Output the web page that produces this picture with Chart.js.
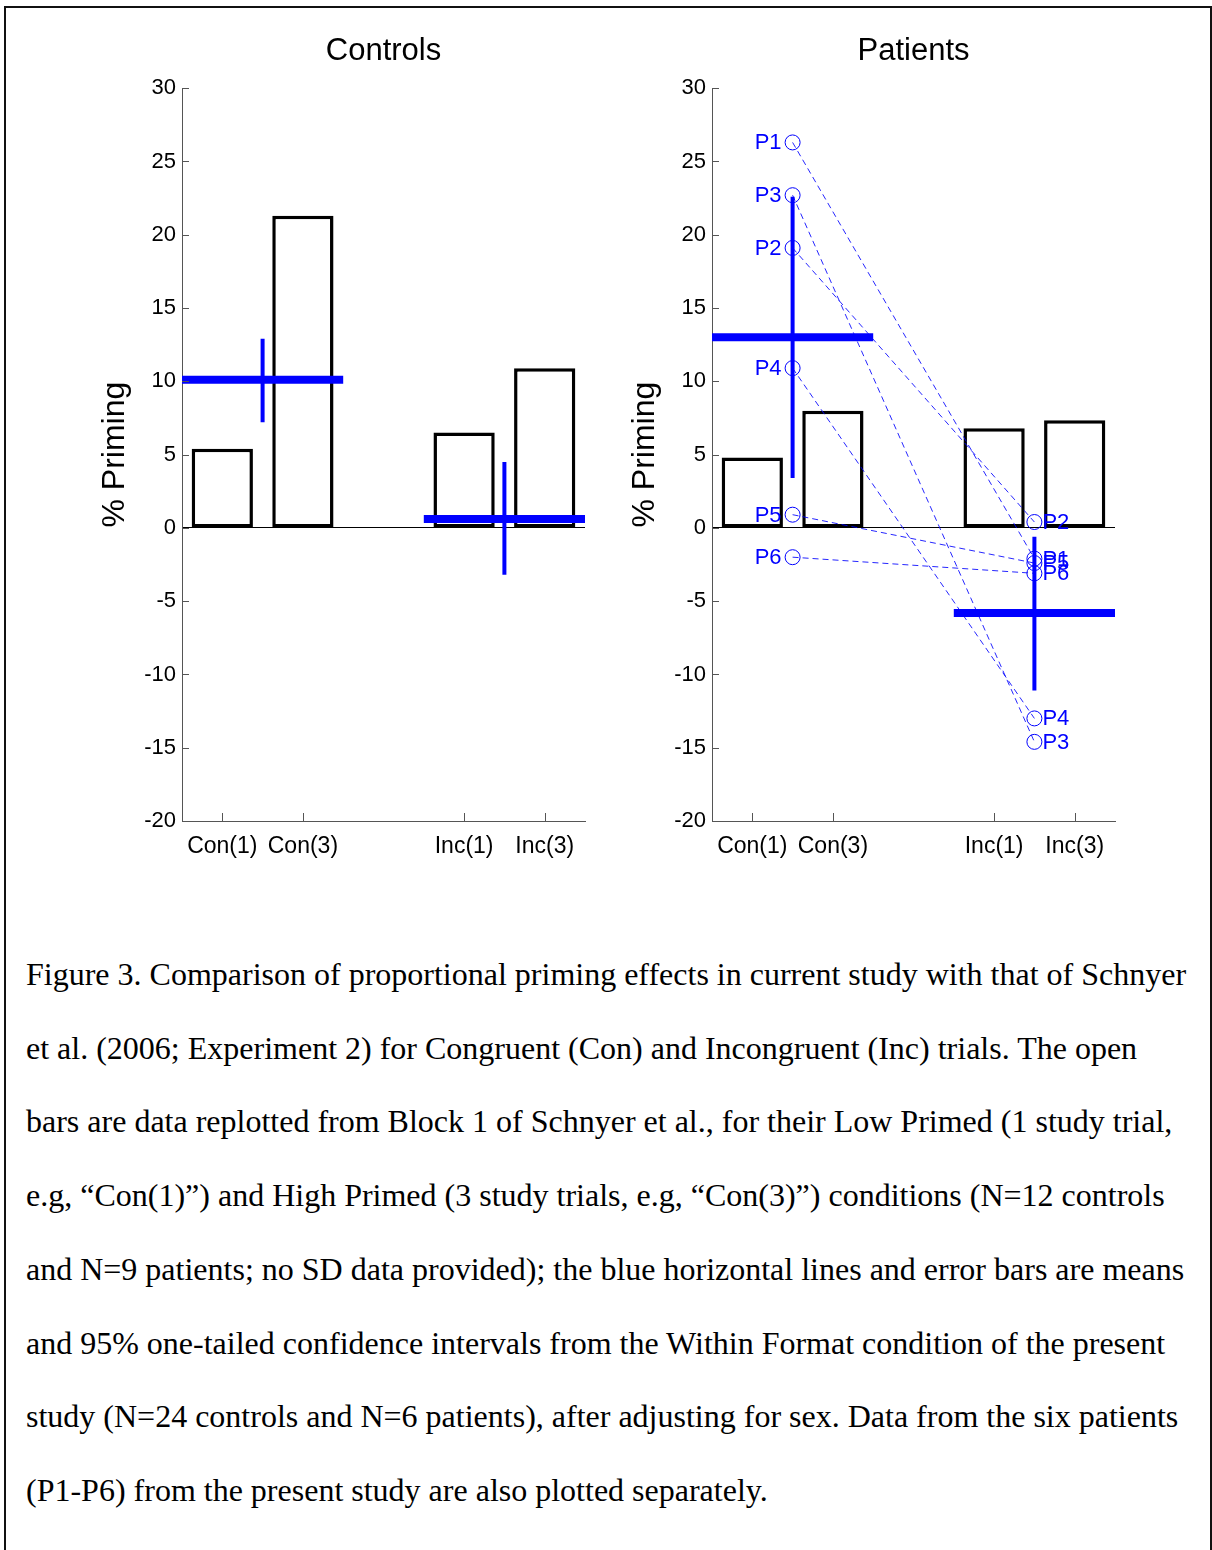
<!DOCTYPE html>
<html>
<head>
<meta charset="utf-8">
<script src="https://cdn.jsdelivr.net/npm/chart.js@4.4.4/dist/chart.umd.min.js"></script>
<style>
  html, body { margin: 0; padding: 0; background: #fff; }
  body { width: 1212px; height: 1550px; position: relative; overflow: hidden; }
  .frame {
    position: absolute; left: 4px; top: 6px; width: 1208px; height: 1600px;
    box-sizing: border-box; border: 2px solid #111; border-bottom: none;
  }
  canvas { position: absolute; top: 0; }
  #controls { left: 0; }
  #patients { left: 530px; }
  .caption {
    position: absolute; left: 26px; top: 938px;
    font-family: "Liberation Serif", "Times New Roman", serif;
    font-size: 32px; line-height: 73.7px; color: #000;
  }
  .caption div { white-space: nowrap; }
</style>
</head>
<body>
<div class="frame"></div>
<canvas id="controls" width="600" height="880"></canvas>
<canvas id="patients" width="600" height="880"></canvas>
<div class="caption">
  <div>Figure 3. Comparison of proportional priming effects in current study with that of Schnyer</div>
  <div>et al. (2006; Experiment 2) for Congruent (Con) and Incongruent (Inc) trials. The open</div>
  <div>bars are data replotted from Block 1 of Schnyer et al., for their Low Primed (1 study trial,</div>
  <div>e.g, “Con(1)”) and High Primed (3 study trials, e.g, “Con(3)”) conditions (N=12 controls</div>
  <div>and N=9 patients; no SD data provided); the blue horizontal lines and error bars are means</div>
  <div>and 95% one-tailed confidence intervals from the Within Format condition of the present</div>
  <div>study (N=24 controls and N=6 patients), after adjusting for sex. Data from the six patients</div>
  <div>(P1-P6) from the present study are also plotted separately.</div>
</div>
<script>
// categories and their positions on the x axis
const categories = ['Con(1)', 'Con(3)', 'Inc(1)', 'Inc(3)'];
const categoryX = [1, 2, 4, 5];

// Schnyer et al. bars (% priming)
const controlBars = [5.4, 21.3, 6.5, 10.9];
const patientBars = [4.8, 8.0, 6.8, 7.35];

// present study means and 95% CI (Con, Inc)
const meanX = [1.5, 4.5];
const meanSpans = [[0.5, 2.5], [3.5, 5.5]];
const controlMeans = [10.1, 0.6];
const controlLow = [7.2, -3.2];
const controlHigh = [12.9, 4.5];
const patientMeans = [13.0, -5.8];
const patientLow = [3.4, -11.1];
const patientHigh = [22.6, -0.6];

// individual patients
const patientNames = ['P1', 'P2', 'P3', 'P4', 'P5', 'P6'];
const patientCon = [26.3, 19.1, 22.7, 10.9, 0.9, -2.0];
const patientInc = [-2.1, 0.4, -14.6, -13.0, -2.4, -3.1];

const yTicks = { min: -20, max: 30, step: 5 };

Chart.defaults.font.family = '"Liberation Sans", Arial, Helvetica, sans-serif';
Chart.defaults.color = '#000';

const BLUE = '#0000ff';

// MATLAB style ticks pointing into the plot
const innerTicks = {
  id: 'innerTicks',
  afterDraw(chart) {
    const { ctx, chartArea, scales } = chart;
    ctx.save();
    ctx.strokeStyle = '#555';
    ctx.lineWidth = 1;
    ctx.beginPath();
    for (let v = yTicks.min; v <= yTicks.max; v += yTicks.step) {
      const py = Math.round(scales.y.getPixelForValue(v)) + 0.5;
      ctx.moveTo(chartArea.left, py);
      ctx.lineTo(chartArea.left + 7, py);
    }
    categoryX.forEach(v => {
      const px = Math.round(scales.x.getPixelForValue(v)) + 0.5;
      ctx.moveTo(px, chartArea.bottom);
      ctx.lineTo(px, chartArea.bottom - 8);
    });
    ctx.stroke();
    ctx.restore();
  }
};

// P1..P6 labels beside each patient's points
const patientLabels = {
  id: 'patientLabels',
  afterDatasetsDraw(chart) {
    const { ctx } = chart;
    ctx.save();
    ctx.font = '22px "Liberation Sans", Arial, sans-serif';
    ctx.fillStyle = BLUE;
    ctx.textBaseline = 'middle';
    chart.data.datasets.forEach((ds, i) => {
      if (!ds.patient) return;
      const pts = chart.getDatasetMeta(i).data;
      ctx.textAlign = 'right';
      ctx.fillText(ds.patient, pts[0].x - 11, pts[0].y + 1);
      ctx.textAlign = 'left';
      ctx.fillText(ds.patient, pts[1].x + 8, pts[1].y + 1);
    });
    ctx.restore();
  }
};

function meanDatasets(means, low, high) {
  const sets = [];
  means.forEach((m, i) => {
    sets.push({
      type: 'line', order: 1,
      data: meanSpans[i].map(x => ({ x, y: m })),
      borderColor: BLUE, borderWidth: 8, pointRadius: 0, borderCapStyle: 'butt'
    });
    sets.push({
      type: 'line', order: 1,
      data: [{ x: meanX[i], y: low[i] }, { x: meanX[i], y: high[i] }],
      borderColor: BLUE, borderWidth: 4, pointRadius: 0, borderCapStyle: 'butt'
    });
  });
  return sets;
}

function patientDatasets() {
  return patientNames.map((name, i) => ({
    type: 'line', order: 0, patient: name,
    data: [{ x: meanX[0], y: patientCon[i] }, { x: meanX[1], y: patientInc[i] }],
    borderColor: 'rgba(0,0,255,0.85)', borderWidth: 1, borderDash: [6, 4],
    pointRadius: 7.5, pointBorderWidth: 1, pointBorderColor: BLUE,
    pointBackgroundColor: 'rgba(0,0,0,0)'
  }));
}

function makeChart(el, title, bars, extra) {
  const datasets = [{
    type: 'bar', order: 3,
    data: categoryX.map((x, i) => ({ x, y: bars[i] })),
    backgroundColor: '#fff', borderColor: '#000', borderWidth: 3.5,
    borderSkipped: false, barPercentage: 0.76, categoryPercentage: 1
  }].concat(extra);

  return new Chart(el, {
    type: 'bar',
    data: { datasets },
    options: {
      responsive: false,
      devicePixelRatio: 1,
      animation: false,
      layout: { padding: { left: 0, right: 15, top: 0, bottom: 0 } },
      plugins: {
        legend: { display: false },
        tooltip: { enabled: false },
        title: {
          display: true, text: title, color: '#000', fullSize: false,
          font: { size: 31, weight: 'normal' },
          padding: { top: 33, bottom: 18 }
        }
      },
      scales: {
        x: {
          type: 'linear', min: 0.5, max: 5.5, offset: false,
          afterBuildTicks: s => { s.ticks = categoryX.map(v => ({ value: v })); },
          afterFit: s => { s.height = 59; },
          ticks: {
            callback: v => categories[categoryX.indexOf(v)],
            font: { size: 23 }, padding: 12, maxRotation: 0, autoSkip: false
          },
          grid: { display: false, drawTicks: false },
          border: { display: true, color: '#555', width: 1 }
        },
        y: {
          min: yTicks.min, max: yTicks.max,
          afterFit: s => { s.width = 182; },
          ticks: { stepSize: yTicks.step, font: { size: 22 }, padding: 6 },
          grid: {
            drawTicks: false, lineWidth: 1,
            color: c => (c.tick && c.tick.value === 0) ? '#000' : 'rgba(0,0,0,0)'
          },
          border: { display: true, color: '#555', width: 1 },
          title: {
            display: true, text: '% Priming', color: '#000',
            font: { size: 32 }, padding: { top: 96 }
          }
        }
      }
    },
    plugins: [innerTicks, patientLabels]
  });
}

makeChart(document.getElementById('controls'), 'Controls', controlBars,
  meanDatasets(controlMeans, controlLow, controlHigh));
makeChart(document.getElementById('patients'), 'Patients', patientBars,
  meanDatasets(patientMeans, patientLow, patientHigh).concat(patientDatasets()));
</script>
</body>
</html>
